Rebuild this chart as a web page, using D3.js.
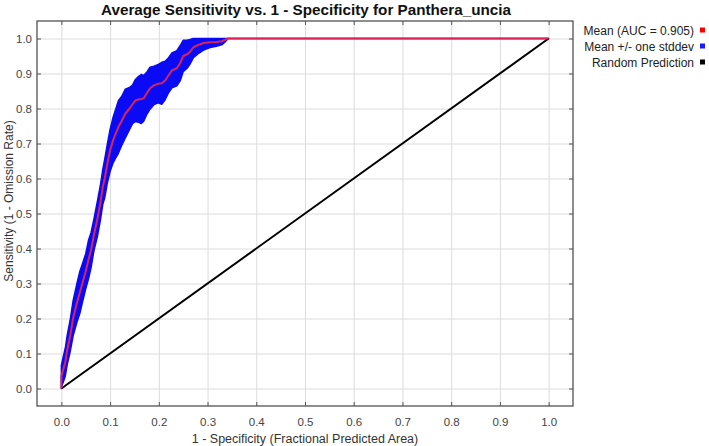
<!DOCTYPE html>
<html>
<head>
<meta charset="utf-8">
<script src="https://cdn.jsdelivr.net/npm/d3@7"></script>
<style>
  body { margin: 0; background: #fff; }
  svg { display: block; font-family: Arial, "Liberation Sans", sans-serif; }
  .grid line { stroke: #dcdcdc; stroke-width: 1; }
  .grid path { display: none; }
  .ticks line { stroke: #555; }
  .ticks path { display: none; }
  .ticks text { fill: #444; font-size: 11.5px; }
</style>
</head>
<body>
<div id="chart"></div>
<script>
// ROC data (x = 1 - specificity)
const fpr = [0, 0, 0.003, 0.008, 0.012, 0.018, 0.024, 0.032, 0.038, 0.043,
  0.050, 0.056, 0.061, 0.067, 0.074, 0.080, 0.085, 0.089, 0.094, 0.100,
  0.106, 0.112, 0.117, 0.124, 0.131, 0.140, 0.146, 0.152, 0.158, 0.164,
  0.169, 0.176, 0.182, 0.190, 0.199, 0.206, 0.213, 0.220, 0.227, 0.237,
  0.244, 0.250, 0.258, 0.264, 0.271, 0.280, 0.292, 0.305, 0.318, 0.329,
  0.336, 0.342, 1.0]
const meanSens = [0, 0.035, 0.05, 0.075, 0.11, 0.15, 0.20, 0.245, 0.275, 0.30,
  0.335, 0.37, 0.396, 0.44, 0.485, 0.53, 0.576, 0.60, 0.64, 0.68,
  0.709, 0.73, 0.747, 0.765, 0.785, 0.80, 0.812, 0.823, 0.826, 0.827,
  0.829, 0.845, 0.858, 0.866, 0.871, 0.872, 0.880, 0.895, 0.909, 0.915,
  0.930, 0.950, 0.955, 0.962, 0.975, 0.981, 0.987, 0.989, 0.990, 0.992,
  0.996, 1.0, 1.0]
const stdSens = [0, 0.03, 0.035, 0.04, 0.042, 0.045, 0.05, 0.055, 0.06, 0.055,
  0.05, 0.055, 0.05, 0.045, 0.05, 0.05, 0.05, 0.055, 0.055, 0.06,
  0.065, 0.07, 0.075, 0.07, 0.07, 0.06, 0.055, 0.06, 0.065, 0.07,
  0.065, 0.06, 0.06, 0.055, 0.055, 0.06, 0.055, 0.05, 0.05, 0.05,
  0.05, 0.045, 0.04, 0.035, 0.03, 0.025, 0.02, 0.015, 0.012, 0.01,
  0.006, 0, 0]
const randomLine = [[0, 0], [1, 1]]
const tickValues = d3.range(0, 11).map(i => i / 10)
const legendItems = [
  {label: "Mean (AUC = 0.905)", color: "#ff0000"},
  {label: "Mean +/- one stddev", color: "#1a1aff"},
  {label: "Random Prediction", color: "#000000"}
]
const title = "Average Sensitivity vs. 1 - Specificity for Panthera_uncia"
const xTitle = "1 - Specificity (Fractional Predicted Area)"
const yTitle = "Sensitivity (1 - Omission Rate)"

const W = 709, H = 446
const plot = {left: 37, right: 573, top: 21, bottom: 406}

const x = d3.scaleLinear().domain([-0.05, 1.05]).range([plot.left, plot.right])
const y = d3.scaleLinear().domain([-0.05, 1.05]).range([plot.bottom, plot.top])

const svg = d3.select("#chart").append("svg")
    .attr("width", W)
    .attr("height", H)

const rows = fpr.map((f, i) => ({
    f, m: meanSens[i],
    hi: Math.min(1, meanSens[i] + stdSens[i]),
    lo: Math.max(0, meanSens[i] - stdSens[i])
}))

// grid
svg.append("g")
    .attr("class", "grid")
    .attr("transform", "translate(0," + plot.bottom + ")")
    .call(d3.axisBottom(x).tickValues(tickValues).tickSize(-(plot.bottom - plot.top)).tickFormat(""))
svg.append("g")
    .attr("class", "grid")
    .attr("transform", "translate(" + plot.left + ",0)")
    .call(d3.axisLeft(y).tickValues(tickValues).tickSize(-(plot.right - plot.left)).tickFormat(""))

// std band
svg.append("path")
    .datum(rows)
    .attr("fill", "#0a0af5")
    .attr("stroke", "#0a0af5")
    .attr("stroke-width", 1.5)
    .attr("stroke-linejoin", "round")
    .attr("d", d3.area().x(d => x(d.f)).y0(d => y(d.lo)).y1(d => y(d.hi)))

// random prediction
svg.append("path")
    .datum(randomLine)
    .attr("fill", "none")
    .attr("stroke", "#000")
    .attr("stroke-width", 2)
    .attr("d", d3.line().x(d => x(d[0])).y(d => y(d[1])))

// mean
svg.append("path")
    .datum(rows)
    .attr("fill", "none")
    .attr("stroke", "#dc2355")
    .attr("stroke-width", 2)
    .attr("stroke-linejoin", "round")
    .attr("d", d3.line().x(d => x(d.f)).y(d => y(d.m)))

// frame
svg.append("rect")
    .attr("x", plot.left).attr("y", plot.top)
    .attr("width", plot.right - plot.left)
    .attr("height", plot.bottom - plot.top)
    .attr("fill", "none")
    .attr("stroke", "#444")
    .attr("stroke-width", 1.2)

// ticks inward on every side, labels only bottom / left
svg.append("g")
    .attr("class", "ticks")
    .attr("transform", "translate(0," + plot.bottom + ")")
    .call(d3.axisBottom(x).tickValues(tickValues).tickSize(-4).tickPadding(12).tickFormat(d3.format(".1f")))
svg.append("g")
    .attr("class", "ticks")
    .attr("transform", "translate(0," + plot.top + ")")
    .call(d3.axisTop(x).tickValues(tickValues).tickSize(-4).tickFormat(""))
svg.append("g")
    .attr("class", "ticks")
    .attr("transform", "translate(" + plot.left + ",0)")
    .call(d3.axisLeft(y).tickValues(tickValues).tickSize(-4).tickPadding(5).tickFormat(d3.format(".1f")))
svg.append("g")
    .attr("class", "ticks")
    .attr("transform", "translate(" + plot.right + ",0)")
    .call(d3.axisRight(y).tickValues(tickValues).tickSize(-4).tickFormat(""))

// titles
svg.append("text")
    .attr("x", 306).attr("y", 15)
    .attr("text-anchor", "middle")
    .attr("textLength", 410)
    .attr("lengthAdjust", "spacingAndGlyphs")
    .style("font-size", "15px")
    .style("font-weight", "bold")
    .attr("fill", "#111")
    .text(title)
svg.append("text")
    .attr("x", 305).attr("y", 443)
    .attr("text-anchor", "middle")
    .style("font-size", "12.5px")
    .attr("fill", "#333")
    .text(xTitle)
svg.append("text")
    .attr("transform", "translate(12.5,201) rotate(-90)")
    .attr("text-anchor", "middle")
    .style("font-size", "12px")
    .attr("fill", "#333")
    .text(yTitle)

// legend
const legend = svg.append("g")
legendItems.forEach((item, i) => {
    const cy = 30 + i * 16
    legend.append("text")
        .attr("x", 694).attr("y", cy + 4.5)
        .attr("text-anchor", "end")
        .style("font-size", "12px")
        .attr("fill", "#222")
        .text(item.label)
    legend.append("rect")
        .attr("x", 700).attr("y", cy - 2.5)
        .attr("width", 5).attr("height", 5)
        .attr("fill", item.color)
})
</script>
</body>
</html>
